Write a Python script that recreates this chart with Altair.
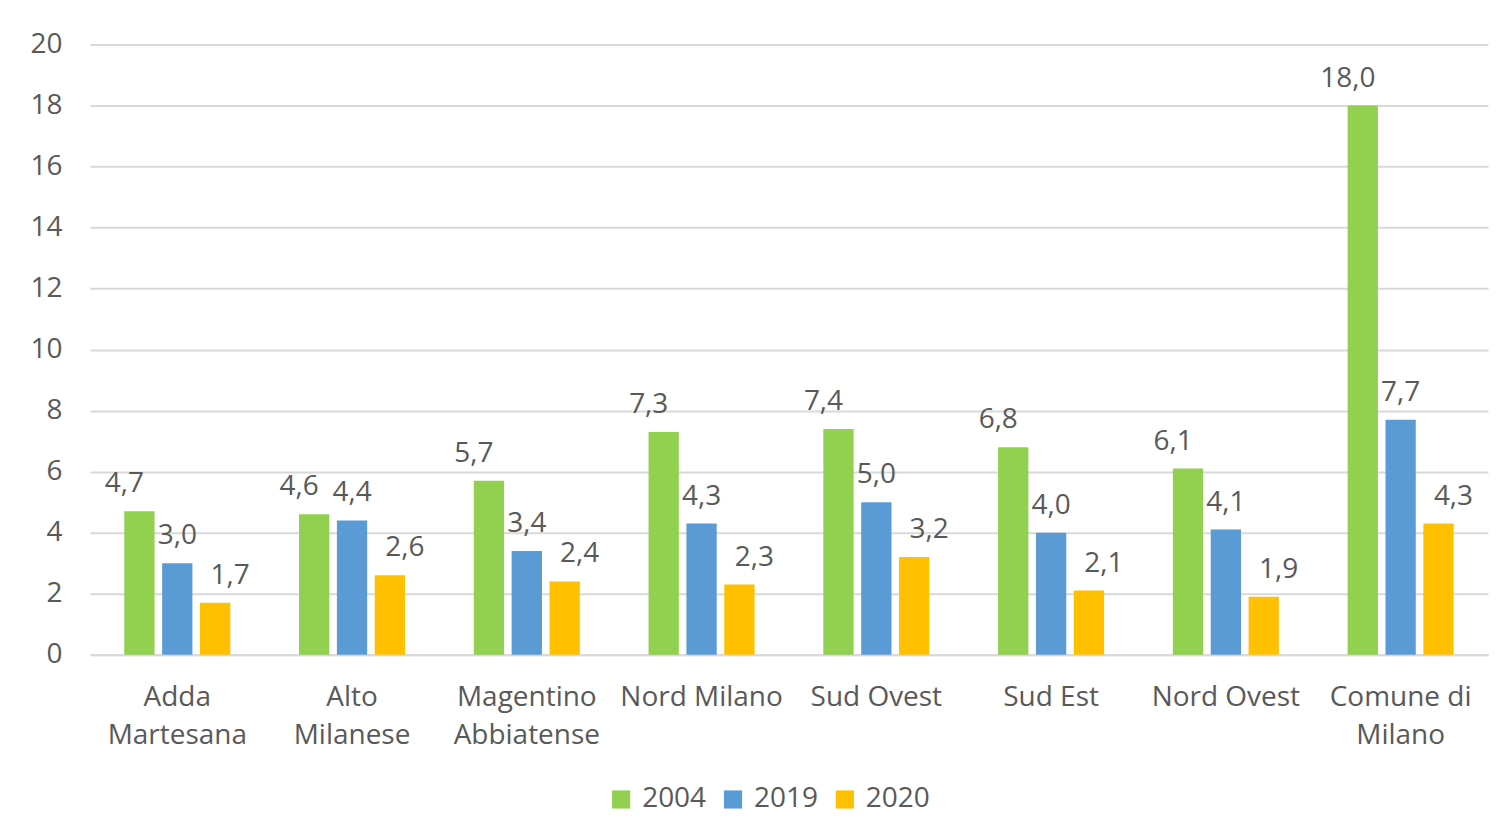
import altair as alt
import pandas as pd

categories = ["Adda\nMartesana", "Alto\nMilanese", "Magentino\nAbbiatense", "Nord Milano",
              "Sud Ovest", "Sud Est", "Nord Ovest", "Comune di\nMilano"]
series = ["2004", "2019", "2020"]
v2004 = [4.7, 4.6, 5.7, 7.3, 7.4, 6.8, 6.1, 18.0]
v2019 = [3.0, 4.4, 3.4, 4.3, 5.0, 4.0, 4.1, 7.7]
v2020 = [1.7, 2.6, 2.4, 2.3, 3.2, 2.1, 1.9, 4.3]
colors = ["#92D050", "#5B9BD5", "#FFC000"]

rows = []
for s, vals in zip(series, [v2004, v2019, v2020]):
    for c, v in zip(categories, vals):
        rows.append({"cat": c, "serie": s, "val": v})
df = pd.DataFrame(rows)

FONT = "Open Sans"
FS = 28
TXT = "#595959"

x = alt.X("cat:N", sort=categories, title=None,
          scale=alt.Scale(paddingInner=0.35, paddingOuter=0.175),
          axis=alt.Axis(labelExpr="split(datum.value, '\\n')", labelAngle=0,
                        labelFontSize=FS, labelColor=TXT, labelFont=FONT,
                        labelLineHeight=38, labelPadding=29, ticks=False,
                        domainColor="#D9D9D9", domainWidth=2, labelBaseline="top"))
xo = alt.XOffset("serie:N", sort=series,
                 scale=alt.Scale(paddingInner=0.2, paddingOuter=0.1))

base = alt.Chart(df)

bars = base.mark_bar().encode(
    x=x, xOffset=xo,
    y=alt.Y("val:Q", title=None,
            scale=alt.Scale(domain=[0, 20], nice=False),
            axis=alt.Axis(values=list(range(0, 21, 2)), labelFontSize=FS, labelColor=TXT,
                          labelFont=FONT, labelPadding=28, ticks=False, domain=False,
                          gridColor="#D9D9D9", gridWidth=2)),
    color=alt.Color("serie:N", sort=series, scale=alt.Scale(domain=series, range=colors),
                    legend=alt.Legend(title=None, orient="none", direction="horizontal",
                                      legendX=518, legendY=742, symbolType="square",
                                      symbolSize=330, symbolStrokeWidth=0,
                                      labelFontSize=FS, labelColor=TXT, labelFont=FONT,
                                      labelOffset=7, columnPadding=12)),
)

layers = [bars]
for s, dx in zip(series, [-15, 0, 15]):
    layers.append(
        base.transform_filter(alt.datum.serie == s)
        .transform_calculate(lab="replace(format(datum.val, '.1f'), '.', ',')")
        .mark_text(dx=dx, dy=-19, baseline="alphabetic", fontSize=FS, color=TXT, font=FONT)
        .encode(x=x, xOffset=xo, y="val:Q", text="lab:N")
    )

chart = alt.layer(*layers).properties(
    width=1400, height=611,
    autosize=alt.AutoSizeParams(type="none"),
    padding={"left": 82, "top": 36, "right": 5, "bottom": 170},
).configure_view(stroke=None)

chart.save("out.html", embed_options={"renderer": "svg", "actions": False})
